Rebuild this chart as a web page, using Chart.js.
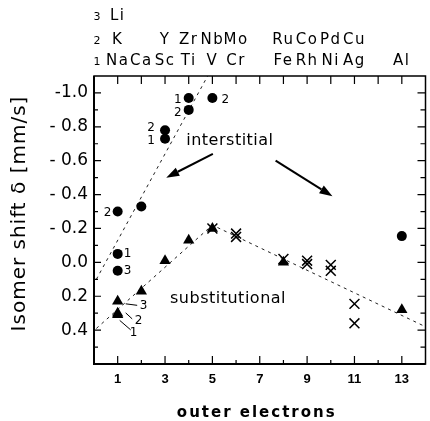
<!DOCTYPE html>
<html lang="en">
<head>
<meta charset="UTF-8">
<title>Isomer shift vs outer electrons</title>
<script src="https://cdn.jsdelivr.net/npm/chart.js"></script>
<style>
  html, body { margin: 0; padding: 0; background: #fff; overflow: hidden; }
  #chart { display: block; }
</style>
</head>
<body>
<canvas id="chart" width="434" height="421"></canvas>
<script>
// interstitial sites (filled circles)
const interX = [1, 1, 1, 2, 3, 3, 4, 4, 5, 13];
const interY = [-0.05, 0.05, -0.30, -0.33, -0.78, -0.73, -0.97, -0.90, -0.97, -0.155];

// substitutional sites (triangles)
const substX = [1, 1, 1, 2, 3, 4, 5, 8, 13];
const substY = [0.23, 0.30, 0.31, 0.17, -0.01, -0.13, -0.20, 0.00, 0.28];

// substitutional sites (crosses)
const crossX = [5, 6, 6, 8, 9, 9, 10, 10, 11, 11];
const crossY = [-0.20, -0.17, -0.15, -0.02, -0.01, 0.01, 0.015, 0.05, 0.245, 0.36];

// dashed guide lines
const interLineX = [0.1, 4.8];
const interLineY = [0.1, -1.1];
const substLineX = [0.1, 5, 14];
const substLineY = [0.39, -0.22, 0.38];

// axis ticks
const xTickValues = [1, 3, 5, 7, 9, 11, 13];
const yTickValues = [-1.0, -0.8, -0.6, -0.4, -0.2, 0.0, 0.2, 0.4];
const yTickLabels = ['-1.0', '- 0.8', '- 0.6', '- 0.4', '- 0.2', '0.0', '0.2', '0.4'];

// element names above the plot, index 0 -> 1 outer electron
const row1Elements = ['Na', 'Ca', 'Sc', 'Ti', 'V', 'Cr', '', 'Fe', 'Rh', 'Ni', 'Ag', '', 'Al'];
const row2Elements = ['K', '', 'Y', 'Zr', 'Nb', 'Mo', '', 'Ru', 'Co', 'Pd', 'Cu', '', ''];
const row3Elements = ['Li'];

// small numbers next to points (offsets in px)
const pointNotes = [
  { x: 1, y: -0.05, text: '1', dx: 10, dy: 0 },
  { x: 1, y: 0.05, text: '3', dx: 10, dy: 0 },
  { x: 1, y: -0.30, text: '2', dx: -10, dy: 1 },
  { x: 3, y: -0.78, text: '2', dx: -14, dy: -2 },
  { x: 3, y: -0.73, text: '1', dx: -14, dy: 2 },
  { x: 4, y: -0.97, text: '1', dx: -11, dy: 2 },
  { x: 4, y: -0.90, text: '2', dx: -11, dy: 3 },
  { x: 5, y: -0.97, text: '2', dx: 13, dy: 2 }
];
// numbers with leader lines for the triangles at x = 1
const leaderNotes = [
  { x: 1, y: 0.23, text: '3', tx: 26, ty: 5, l: [8, 2.5, 19.5, 4] },
  { x: 1, y: 0.31, text: '2', tx: 21, ty: 6, l: [8, -2, 14.5, 4] },
  { x: 1, y: 0.31, text: '1', tx: 16, ty: 18, l: [2, 5.5, 13, 15] }
];
const arrows = [
  { from: [5.02, -0.64], to: [3.05, -0.50] },
  { from: [7.67, -0.60], to: [10.07, -0.39] }
];
const plotTexts = [
  { x: 5.74, y: -0.72, text: 'interstitial' },
  { x: 5.66, y: 0.215, text: 'substitutional' }
];

function points(xs, ys) {
  return xs.map((v, i) => ({ x: v, y: ys[i] }));
}

function spacedText(ctx, text, x, y, spacing) {
  ctx.letterSpacing = spacing + 'px';
  ctx.fillText(text, x, y);
  ctx.letterSpacing = '0px';
}

// frame, inward ticks, labels and arrows
const decorations = {
  id: 'decorations',
  afterDraw(chart) {
    const { ctx, chartArea: a, scales: { x, y } } = chart;
    ctx.save();
    ctx.strokeStyle = '#000';
    ctx.fillStyle = '#000';

    // frame
    ctx.lineWidth = 1.5;
    ctx.strokeRect(a.left, a.top, a.right - a.left, a.bottom - a.top);
    ctx.lineWidth = 2;
    ctx.beginPath();
    ctx.moveTo(a.left, a.top); ctx.lineTo(a.left, a.bottom); ctx.lineTo(a.right, a.bottom);
    ctx.stroke();

    // ticks
    ctx.lineWidth = 1.2;
    ctx.beginPath();
    for (let i = 1; i <= 13; i++) {
      const px = x.getPixelForValue(i);
      const len = i % 2 ? 8 : 4;
      ctx.moveTo(px, a.bottom); ctx.lineTo(px, a.bottom - len);
      ctx.moveTo(px, a.top); ctx.lineTo(px, a.top + 8);
    }
    for (let k = -10; k <= 5; k++) {
      const py = y.getPixelForValue(k / 10);
      const major = k % 2 === 0;
      ctx.moveTo(a.left, py); ctx.lineTo(a.left + (major ? 7 : 4), py);
      ctx.moveTo(a.right, py); ctx.lineTo(a.right - (major ? 8 : 5), py);
    }
    ctx.stroke();

    // dataset notes
    ctx.font = '12px "DejaVu Sans"';
    ctx.textAlign = 'center';
    ctx.textBaseline = 'middle';
    pointNotes.forEach(n => {
      ctx.fillText(n.text, x.getPixelForValue(n.x) + n.dx, y.getPixelForValue(n.y) + n.dy);
    });
    ctx.lineWidth = 1;
    leaderNotes.forEach(n => {
      const px = x.getPixelForValue(n.x), py = y.getPixelForValue(n.y);
      ctx.fillText(n.text, px + n.tx, py + n.ty);
      ctx.beginPath();
      ctx.moveTo(px + n.l[0], py + n.l[1]); ctx.lineTo(px + n.l[2], py + n.l[3]);
      ctx.stroke();
    });

    // text inside the plot
    ctx.font = '16px "DejaVu Sans"';
    plotTexts.forEach(t => {
      spacedText(ctx, t.text, x.getPixelForValue(t.x), y.getPixelForValue(t.y), 0.5);
    });

    // arrows
    arrows.forEach(ar => {
      const x0 = x.getPixelForValue(ar.from[0]), y0 = y.getPixelForValue(ar.from[1]);
      const x1 = x.getPixelForValue(ar.to[0]), y1 = y.getPixelForValue(ar.to[1]);
      const ang = Math.atan2(y1 - y0, x1 - x0);
      const hl = 13, hw = 4.5;
      const bx = x1 - hl * Math.cos(ang), by = y1 - hl * Math.sin(ang);
      ctx.lineWidth = 2;
      ctx.beginPath();
      ctx.moveTo(x0, y0); ctx.lineTo(bx, by);
      ctx.stroke();
      ctx.beginPath();
      ctx.moveTo(x1, y1);
      ctx.lineTo(bx + hw * Math.sin(ang), by - hw * Math.cos(ang));
      ctx.lineTo(bx - hw * Math.sin(ang), by + hw * Math.cos(ang));
      ctx.closePath();
      ctx.fill();
    });

    // element names above the frame
    ctx.textBaseline = 'alphabetic';
    ctx.font = '15px "DejaVu Sans"';
    const rows = [[row1Elements, 65], [row2Elements, 43.5], [row3Elements, 19.5]];
    rows.forEach(([names, base], r) => {
      names.forEach((name, i) => {
        if (name) spacedText(ctx, name, x.getPixelForValue(i + 1), base, 1.5);
      });
    });
    ctx.font = '11px "DejaVu Sans"';
    rows.forEach(([names, base], r) => {
      ctx.fillText(String(r + 1), 97, base);
    });

    // axis titles
    ctx.font = 'bold 15px "DejaVu Sans"';
    spacedText(ctx, 'outer electrons', (a.left + a.right) / 2 - 3, 417, 2);
    ctx.translate(25, 213.5);
    ctx.rotate(-Math.PI / 2);
    ctx.font = '20px "DejaVu Sans"';
    spacedText(ctx, 'Isomer shift δ [mm/s]', 0, 0, 1);
    ctx.restore();
  }
};

new Chart(document.getElementById('chart'), {
  type: 'scatter',
  data: {
    datasets: [
      {
        data: points(interX, interY),
        pointStyle: 'circle', pointRadius: 5,
        backgroundColor: '#000', borderColor: '#000', borderWidth: 0
      },
      {
        data: points(substX, substY),
        pointStyle: 'triangle', pointRadius: 6.5,
        backgroundColor: '#000', borderColor: '#000', borderWidth: 0
      },
      {
        data: points(crossX, crossY),
        pointStyle: 'crossRot', pointRadius: 7,
        backgroundColor: '#000', borderColor: '#000', borderWidth: 1.5
      },
      {
        type: 'line',
        data: points(interLineX, interLineY),
        borderColor: '#222', borderWidth: 1, borderDash: [3, 4],
        pointRadius: 0, fill: false
      },
      {
        type: 'line',
        data: points(substLineX, substLineY),
        borderColor: '#222', borderWidth: 1, borderDash: [3, 4],
        pointRadius: 0, fill: false
      }
    ]
  },
  options: {
    responsive: false,
    animation: false,
    layout: { padding: { top: 76, right: 1, left: 0, bottom: 0 } },
    plugins: { legend: { display: false }, tooltip: { enabled: false } },
    scales: {
      x: {
        type: 'linear', min: 0, max: 14,
        grid: { display: false, drawTicks: false },
        border: { display: false },
        afterBuildTicks: s => { s.ticks = xTickValues.map(v => ({ value: v })); },
        afterFit: s => { s.height = 57; },
        ticks: {
          color: '#000', padding: 8, maxRotation: 0, autoSkip: false,
          font: { family: 'Liberation Sans', size: 13, weight: 'bold' }
        }
      },
      y: {
        type: 'linear', reverse: true, min: -1.1, max: 0.6,
        grid: { display: false, drawTicks: false },
        border: { display: false },
        afterBuildTicks: s => { s.ticks = yTickValues.map(v => ({ value: v })); },
        afterFit: s => { s.width = 94; },
        ticks: {
          color: '#000', padding: 6, autoSkip: false,
          callback: (v, i) => yTickLabels[i],
          font: { family: 'DejaVu Sans', size: 17 }
        }
      }
    }
  },
  plugins: [decorations]
});
</script>
</body>
</html>
